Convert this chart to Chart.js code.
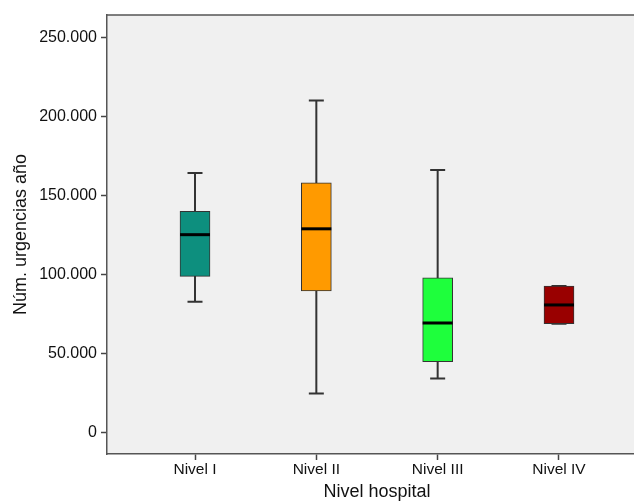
<!DOCTYPE html>
<html>
<head>
<meta charset="utf-8">
<script src="https://cdn.jsdelivr.net/npm/chart.js@4.4.1/dist/chart.umd.min.js"></script>
<style>
  html, body { margin: 0; padding: 0; background: #fff; overflow: hidden; width: 634px; height: 501px; }
  #wrap { width: 647px; height: 501px; position: relative; }
</style>
</head>
<body>
<div id="wrap"><canvas id="c"></canvas></div>
<script>
// ---- data ----
const categories = ['Nivel I', 'Nivel II', 'Nivel III', 'Nivel IV'];
const whiskerLow  = [83000, 25000, 34500, 69000];
const quartile1   = [99000, 89700, 45000, 69000];
const medians     = [125300, 129000, 69500, 80900];
const quartile3   = [140000, 158000, 98000, 92800];
const whiskerHigh = [164300, 210000, 166200, 92800];
const boxColors   = ['#0d8f7e', '#ff9a00', '#1eff3c', '#990000'];
const yTickValues = [0, 50000, 100000, 150000, 200000, 250000];

const fmt = v => String(Math.round(v)).replace(/\B(?=(\d{3})+(?!\d))/g, '.');

const FONT = '"Liberation Sans", Arial, Helvetica, sans-serif';

const boxPlugin = {
  id: 'boxExtras',
  beforeDraw(chart) {
    const { ctx, chartArea: a } = chart;
    ctx.save();
    ctx.fillStyle = '#f0f0f0';
    ctx.fillRect(a.left, a.top, a.right - a.left, a.bottom - a.top);
    ctx.restore();
  },
  beforeDatasetsDraw(chart) {
    const { ctx, scales: { x, y } } = chart;
    ctx.save();
    ctx.strokeStyle = '#333';
    ctx.lineWidth = 2;
    categories.forEach((c, i) => {
      const px = x.getPixelForValue(i);
      const yl = y.getPixelForValue(whiskerLow[i]);
      const yh = y.getPixelForValue(whiskerHigh[i]);
      ctx.beginPath();
      ctx.moveTo(px, yl); ctx.lineTo(px, yh);
      ctx.moveTo(px - 7.5, yl); ctx.lineTo(px + 7.5, yl);
      ctx.moveTo(px - 7.5, yh); ctx.lineTo(px + 7.5, yh);
      ctx.stroke();
    });
    ctx.restore();
  },
  afterDatasetsDraw(chart) {
    const { ctx, scales: { x, y }, chartArea: a } = chart;
    ctx.save();
    ctx.strokeStyle = '#000';
    ctx.lineWidth = 3;
    categories.forEach((c, i) => {
      const px = x.getPixelForValue(i);
      const ym = y.getPixelForValue(medians[i]);
      ctx.beginPath();
      ctx.moveTo(px - 15, ym); ctx.lineTo(px + 15, ym);
      ctx.stroke();
    });
    // top frame line
    ctx.strokeStyle = '#555';
    ctx.lineWidth = 1.5;
    ctx.beginPath();
    ctx.moveTo(a.left, a.top); ctx.lineTo(a.right, a.top);
    ctx.stroke();
    ctx.restore();
  }
};

new Chart(document.getElementById('c'), {
  type: 'bar',
  data: {
    datasets: [{
      data: categories.map((c, i) => ({ x: i, y: [quartile1[i], quartile3[i]] })),
      backgroundColor: boxColors,
      borderColor: '#333',
      borderWidth: 1,
      borderSkipped: false,
      barThickness: 30
    }]
  },
  options: {
    responsive: true,
    maintainAspectRatio: false,
    animation: false,
    layout: { padding: { top: 15, right: 0, bottom: 0, left: 0 } },
    plugins: { legend: { display: false }, tooltip: { enabled: false } },
    scales: {
      x: {
        type: 'linear',
        offset: false,
        min: -0.7253,
        max: 3.7253,
        afterBuildTicks: s => { s.ticks = categories.map((c, i) => ({ value: i })); },
        afterFit: s => { s.height = 47; },
        ticks: {
          callback: v => categories[v] ?? '',
          color: '#111',
          font: { family: FONT, size: 15.5 },
          padding: 0,
          maxRotation: 0
        },
        grid: { display: true, offset: false, drawOnChartArea: false, tickLength: 6, color: '#444', tickWidth: 1.5 },
        border: { display: true, color: '#555', width: 1.5 },
        title: {
          display: true,
          text: 'Nivel hospital',
          color: '#111',
          font: { family: FONT, size: 18, lineHeight: 1 },
          padding: { top: 0, bottom: 0 }
        }
      },
      y: {
        min: -13270,
        max: 264090,
        afterBuildTicks: s => { s.ticks = yTickValues.map(v => ({ value: v })); },
        afterFit: s => { s.width = 107; },
        ticks: {
          callback: v => fmt(v),
          color: '#111',
          font: { family: FONT, size: 16 },
          padding: 4
        },
        grid: { display: true, drawOnChartArea: false, tickLength: 6, color: '#444', tickWidth: 1.5 },
        border: { display: true, color: '#555', width: 1.5 },
        title: {
          display: true,
          text: 'Núm. urgencias año',
          color: '#111',
          font: { family: FONT, size: 18, lineHeight: 1 },
          padding: { top: 12, bottom: 0 }
        }
      }
    }
  },
  plugins: [boxPlugin]
});
</script>
</body>
</html>
